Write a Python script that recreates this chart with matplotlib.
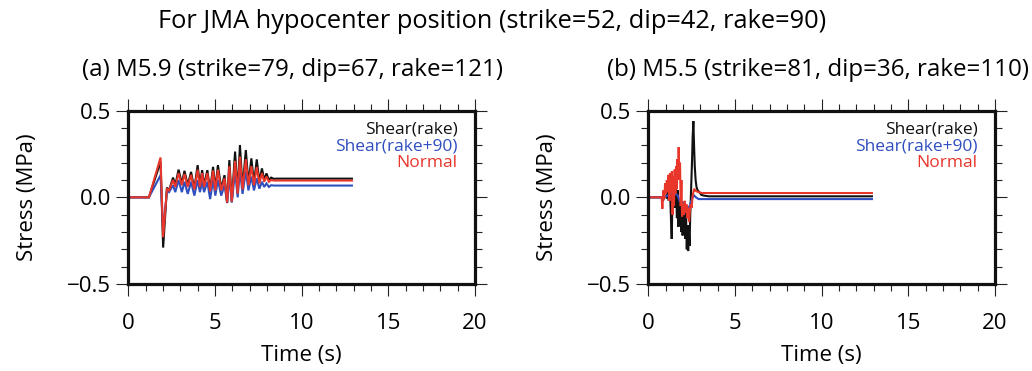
import matplotlib
matplotlib.use("Agg")
import matplotlib.pyplot as plt
from matplotlib.ticker import MultipleLocator

plt.rcParams['font.family'] = ['Open Sans', 'DejaVu Sans']

# ---------------- data ----------------
title_main = "For JMA hypocenter position (strike=52, dip=42, rake=90)"
title_a = "(a) M5.9 (strike=79, dip=67, rake=121)"
title_b = "(b) M5.5 (strike=81, dip=36, rake=110)"
series_names = ["Shear(rake)", "Shear(rake+90)", "Normal"]
series_colors = ["#111111", "#2f4fbf", "#e8362a"]

# panel (a)
time_a = [0, 1.19, 1.86, 2.01, 2.23, 2.35, 2.58, 2.71, 2.90, 3.09, 3.24, 3.43, 3.62,
          3.81, 4.00, 4.13, 4.26, 4.37, 4.56, 4.72, 4.89, 5.02, 5.17, 5.36, 5.55,
          5.70, 5.83, 5.97, 6.16, 6.31, 6.44, 6.59, 6.78, 6.93, 7.10, 7.25, 7.41,
          7.56, 7.71, 7.84, 7.97, 8.11, 8.24, 8.39, 8.60, 12.9]
shear_a = [0, 0, 0.205, -0.29, 0.056, 0.04, 0.114, 0.07, 0.16, 0.08, 0.153, 0.07, 0.147,
           0.05, 0.186, 0.07, 0.157, 0.07, 0.157, 0.04, 0.176, 0.05, 0.186, 0.05, 0.128,
           -0.033, 0.215, -0.027, 0.264, 0.02, 0.302, 0.05, 0.273, 0.08, 0.225, 0.08, 0.219,
           0.09, 0.167, 0.10, 0.138, 0.10, 0.114, 0.107, 0.108, 0.108]
shear90_a = [0, 0, 0.128, -0.20, 0.04, 0.03, 0.07, 0.03, 0.10, 0.03, 0.09, 0.02, 0.09,
             0.01, 0.10, 0.03, 0.09, 0.03, 0.09, -0.01, 0.10, 0.01, 0.10, 0.01, 0.07,
             -0.03, 0.12, -0.03, 0.15, 0.0, 0.16, 0.02, 0.15, 0.04, 0.12, 0.04, 0.11,
             0.05, 0.09, 0.06, 0.08, 0.06, 0.07, 0.068, 0.068, 0.068]
normal_a = [0, 0, 0.23, -0.23, 0.05, 0.04, 0.10, 0.06, 0.14, 0.07, 0.135, 0.06, 0.13,
            0.045, 0.16, 0.06, 0.14, 0.06, 0.14, 0.035, 0.155, 0.04, 0.16, 0.04, 0.11,
            -0.03, 0.18, -0.025, 0.21, 0.02, 0.235, 0.045, 0.22, 0.07, 0.18, 0.07, 0.175,
            0.08, 0.14, 0.09, 0.12, 0.09, 0.10, 0.097, 0.097, 0.097]

# panel (b)
time_shear_b = [0, 0.77, 0.85, 0.95, 1.05, 1.12, 1.18, 1.25, 1.30, 1.35, 1.40, 1.45, 1.50,
                1.55, 1.60, 1.65, 1.70, 1.74, 1.78, 1.82, 1.86, 1.90, 1.94, 1.98, 2.02,
                2.06, 2.10, 2.14, 2.18, 2.22, 2.26, 2.30, 2.34, 2.38, 2.42, 2.47, 2.52,
                2.56, 2.60, 2.64, 2.68, 2.73, 2.78, 2.85, 2.95, 3.05, 3.2, 3.5, 12.9]
shear_b = [0, 0, -0.02, 0.01, 0.0, 0.03, -0.02, 0.05, -0.10, -0.24, 0.02, -0.05, 0.08,
           -0.06, 0.06, -0.12, 0.04, -0.17, -0.02, -0.14, -0.04, -0.20, -0.08, -0.22, -0.10,
           -0.20, -0.06, -0.24, -0.12, -0.30, -0.16, -0.31, -0.20, -0.28, -0.10, 0.05, 0.20,
           0.35, 0.44, 0.30, 0.18, 0.10, 0.06, 0.04, 0.03, 0.015, 0.01, 0.006, 0.006]
time_shear90_b = [0, 0.77, 0.9, 1.1, 1.3, 1.5, 1.7, 1.8, 2.0, 2.2, 2.35, 2.45, 2.55, 2.65,
                  2.75, 2.9, 3.1, 12.9]
shear90_b = [0, 0, 0.0, 0.01, 0.02, 0.025, 0.01, -0.02, -0.03, -0.05, -0.06, -0.03, 0.0,
             0.01, 0.0, -0.01, -0.01, -0.01]
time_normal_b = [0, 0.77, 0.81, 0.87, 0.92, 0.97, 1.02, 1.07, 1.12, 1.17, 1.22, 1.27, 1.32,
                 1.36, 1.40, 1.44, 1.48, 1.52, 1.56, 1.60, 1.64, 1.68, 1.72, 1.75, 1.79,
                 1.83, 1.87, 1.91, 1.95, 2.00, 2.05, 2.10, 2.15, 2.20, 2.25, 2.30, 2.35,
                 2.40, 2.45, 2.50, 2.55, 2.60, 2.65, 2.70, 2.78, 2.90, 3.08, 3.37, 12.9]
normal_b = [0, 0, -0.066, 0.04, -0.01, 0.08, 0.02, 0.10, 0.03, 0.13, -0.02, 0.14, 0.04,
            0.15, -0.10, 0.12, -0.05, 0.16, 0.02, 0.18, 0.05, 0.22, 0.10, 0.29, 0.12,
            0.20, -0.05, 0.10, -0.11, -0.04, -0.10, -0.02, -0.09, -0.04, -0.12, -0.06, -0.14,
            -0.08, -0.04, -0.06, 0.0, 0.03, 0.05, 0.04, 0.035, 0.03, 0.025, 0.025, 0.025]

x_ticks = [0, 5, 10, 15, 20]
y_ticks = [-0.5, 0.0, 0.5]

# ---------------- figure ----------------
fig = plt.figure(figsize=(10.32, 3.71), dpi=100)
ax_a = fig.add_axes([128.3 / 1032, 1 - 284 / 371, 346.7 / 1032, 173.3 / 371])
ax_b = fig.add_axes([648.3 / 1032, 1 - 284 / 371, 346.7 / 1032, 173.3 / 371])

panels = [
    (ax_a, [(time_a, shear_a), (time_a, shear90_a), (time_a, normal_a)]),
    (ax_b, [(time_shear_b, shear_b), (time_shear90_b, shear90_b), (time_normal_b, normal_b)]),
]

for ax, data in panels:
    for (t, v), c in zip(data, series_colors):
        ax.plot(t, v, color=c, lw=1.5, solid_joinstyle='miter')
    ax.set_xlim(0, 20)
    ax.set_ylim(-0.5, 0.5)
    ax.set_xticks(x_ticks)
    ax.set_yticks(y_ticks)
    ax.set_yticklabels([f"{y:.1f}".replace("-", "\u2212") for y in y_ticks])
    ax.xaxis.set_minor_locator(MultipleLocator(1))
    ax.yaxis.set_minor_locator(MultipleLocator(0.1))
    ax.tick_params(which='both', direction='out', top=True, right=True,
                   width=0.8, color='#222222')
    ax.tick_params(which='major', length=8.6, labelsize=16)
    ax.tick_params(axis='x', which='major', pad=12)
    ax.tick_params(axis='y', which='major', pad=4)
    ax.tick_params(which='minor', length=4.8)
    for s in ax.spines.values():
        s.set_linewidth(2.3)
        s.set_color('#111111')
    ax.set_xlabel("Time (s)", fontsize=16, labelpad=8)
    ax.set_ylabel("Stress (MPa)", fontsize=16, labelpad=21)
    for i, (name, c) in enumerate(zip(series_names, series_colors)):
        ax.text(0.95, 0.889 - i * 0.096, name, color=c, fontsize=12.5,
                ha='right', va='center', transform=ax.transAxes)

fig.text(492 / 1032, 1 - 22 / 371, title_main, fontsize=18.3, ha='center', va='center')
fig.text(292 / 1032, 1 - 70 / 371, title_a, fontsize=17.4, ha='center', va='center')
fig.text(818 / 1032, 1 - 70 / 371, title_b, fontsize=17.4, ha='center', va='center')

fig.savefig("out.png", dpi=100)
